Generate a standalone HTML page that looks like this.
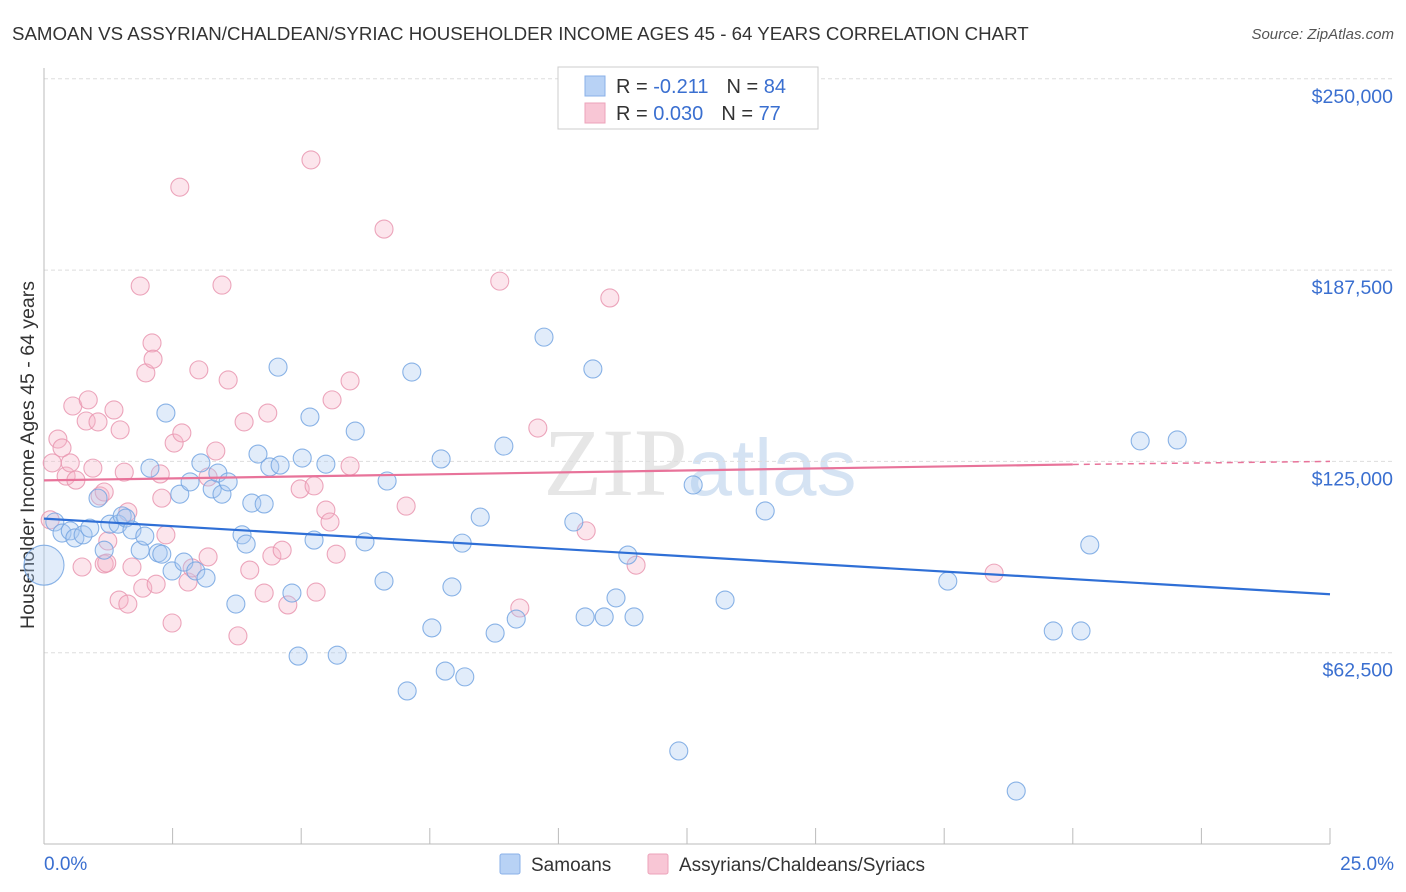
<!DOCTYPE html>
<html><head><meta charset="utf-8"><style>
body{margin:0;background:#fff;font-family:"Liberation Sans",sans-serif;}
svg{display:block}
</style></head><body>
<svg id="chart" width="1406" height="892" xmlns="http://www.w3.org/2000/svg">
<text x="12" y="40" font-size="18.7" fill="#333">SAMOAN VS ASSYRIAN/CHALDEAN/SYRIAC HOUSEHOLDER INCOME AGES 45 - 64 YEARS CORRELATION CHART</text>
<text x="1394" y="39" font-size="15" fill="#555" font-style="italic" text-anchor="end">Source: ZipAtlas.com</text>
<text x="34" y="455" font-size="19.5" fill="#333" text-anchor="middle" transform="rotate(-90 34 455)">Householder Income Ages 45 - 64 years</text>
<text x="700" y="495" font-size="96" fill="#e6e6e6" text-anchor="middle" font-family="Liberation Serif,serif">ZIP<tspan fill="#d5e3f3" font-family="Liberation Sans,sans-serif" font-size="80">atlas</tspan></text>
<g id="grid"></g><g id="axes"></g><g id="pts"></g><g id="lines"></g>
<g>
<rect x="558" y="67" width="260" height="62" fill="#fff" stroke="#ccc"/>
<rect x="585" y="76" width="20" height="20" fill="#b8d2f5" stroke="#8ab0e8"/>
<rect x="585" y="103" width="20" height="20" fill="#f8c6d5" stroke="#eca3ba"/>
<text x="616" y="93" font-size="20" fill="#333">R = <tspan fill="#3a6fd0">-0.211</tspan><tspan dx="18">N = </tspan><tspan fill="#3a6fd0">84</tspan></text>
<text x="616" y="120" font-size="20" fill="#333">R = <tspan fill="#3a6fd0">0.030</tspan><tspan dx="18">N = </tspan><tspan fill="#3a6fd0">77</tspan></text>
</g>
<g>
<rect x="500" y="854" width="20" height="20" fill="#b8d2f5" stroke="#8ab0e8" rx="2"/>
<text x="531" y="871" font-size="19" fill="#333">Samoans</text>
<rect x="648" y="854" width="20" height="20" fill="#f8c6d5" stroke="#eca3ba" rx="2"/>
<text x="679" y="871" font-size="19" fill="#333">Assyrians/Chaldeans/Syriacs</text>
</g>
<text x="44" y="870" font-size="19" fill="#3a6fd0">0.0%</text>
<text x="1394" y="870" font-size="19" fill="#3a6fd0" text-anchor="end">25.0%</text>
</svg>
<script>
const yTicks=[62500,125000,187500,250000];
const yTickLabels=["$62,500","$125,000","$187,500","$250,000"];
const samoanX=[0.21,0.35,0.51,0.60,0.76,0.89,1.05,1.17,1.28,1.44,1.52,1.59,1.71,1.87,1.96,2.06,2.22,2.29,2.37,2.49,2.64,2.72,2.84,2.95,3.05,3.15,3.27,3.38,3.46,3.58,3.73,3.85,3.93,4.04,4.16,4.28,4.39,4.55,4.59,4.82,4.94,5.02,5.17,5.25,5.48,5.70,6.05,6.24,6.61,6.67,7.06,7.15,7.54,7.72,7.80,7.93,8.13,8.18,8.48,8.77,8.94,9.18,9.72,10.30,10.52,10.67,10.89,11.12,11.35,11.47,12.34,12.62,13.24,14.02,17.57,18.90,19.62,20.16,20.33,21.31,22.03];
const samoanY=[105.2,101.6,102.3,100.0,101.0,103.2,113.0,96.0,104.5,104.5,107.2,106.5,102.6,96.0,100.6,122.8,95.1,94.7,140.8,89.2,114.3,92.1,118.3,89.2,124.5,86.9,116.0,121.2,114.3,118.3,78.4,101.0,98.0,111.4,127.4,111.1,123.2,155.8,123.8,82.0,61.4,126.1,139.5,99.3,124.1,61.7,134.9,98.7,85.9,118.6,50.0,154.2,70.6,125.8,56.5,84.0,98.3,54.6,106.8,68.9,130.0,73.5,165.6,105.2,74.2,155.2,74.2,80.4,94.4,74.2,30.4,117.3,79.7,108.8,85.9,17.3,69.6,69.6,97.7,131.7,132.0];
const assyrX=[0.12,0.16,0.27,0.35,0.43,0.51,0.56,0.62,0.74,0.82,0.86,0.95,1.05,1.09,1.17,1.17,1.22,1.24,1.36,1.46,1.48,1.56,1.63,1.71,1.63,1.87,1.92,1.98,2.10,2.12,2.18,2.26,2.29,2.37,2.49,2.53,2.64,2.68,2.80,2.88,3.01,3.19,3.19,3.34,3.46,3.58,3.77,3.89,4.00,4.28,4.35,4.43,4.63,4.74,4.98,5.19,5.25,5.29,5.48,5.56,5.60,5.68,5.95,5.95,6.61,7.04,8.86,9.25,9.60,10.54,11.00,11.51,18.47];
const assyrY=[105.9,124.5,132.3,129.4,120.2,124.5,143.1,118.9,90.5,138.2,145.1,122.8,137.9,113.7,115.0,91.5,91.8,99.0,141.8,79.7,135.3,121.5,108.5,90.5,78.4,182.3,83.6,153.9,163.7,158.4,84.9,120.9,113.0,101.0,72.2,131.0,214.6,134.3,85.6,90.2,154.9,119.9,93.8,128.4,182.6,151.6,68.0,137.9,89.5,82.0,140.8,94.1,96.0,78.1,116.0,223.5,117.0,82.3,109.1,105.2,145.1,94.7,151.3,123.5,200.9,110.4,183.9,77.1,135.9,102.3,178.4,91.1,88.5];
const bigX=[0.0], bigY=[91.1];
const trendBlue=[106.3,81.6];
const trendPink=[118.8,124.0,125.0];
const NS="http://www.w3.org/2000/svg";
const X=p=>44+p*51.44;
const Y=v=>844-v/62500*191.3;
const Yk=k=>Y(k*1000);
function mk(t,a,parent){const e=document.createElementNS(NS,t);for(const k in a)e.setAttribute(k,a[k]);parent.appendChild(e);return e;}
const grid=document.getElementById('grid'),axes=document.getElementById('axes'),pts=document.getElementById('pts'),lines=document.getElementById('lines');
yTicks.forEach((v,i)=>{
 const l=mk('line',{x1:44,x2:1394,y1:Y(v),y2:Y(v),stroke:'#ddd','stroke-dasharray':'4,3'},grid);
 
 
 const t=mk('text',{x:1393,y:Y(v)+24,'font-size':19.5,fill:'#3a6fd0','text-anchor':'end'},grid);
 t.textContent=yTickLabels[i];
 
 
});
mk('line',{x1:44,x2:44,y1:68,y2:844,stroke:'#bbb'},axes);
mk('line',{x1:44,x2:1330,y1:844,y2:844,stroke:'#bbb'},axes);
for(let i=0;i<=10;i++){const tk=mk('line',{x1:X(i*2.5),x2:X(i*2.5),y1:828,y2:844,stroke:'#bbb'},axes);
 
 }
function dots(xs,ys,fill,stroke,name,r){xs.forEach((x,i)=>{const c=mk('circle',{cx:X(x),cy:Yk(ys[i]),r:r,fill:fill,'fill-opacity':0.35,stroke:stroke,'stroke-opacity':0.85,'stroke-width':1.1},pts);
 
 });}
dots(assyrX,assyrY,'#f5b5c9','#e996b0','assyrian-point',9);
dots(samoanX,samoanY,'#a9c8f0','#76a6e2','samoan-point',9);
dots(bigX,bigY,'#a9c8f0','#76a6e2','samoan-point-large',20);
const b=mk('line',{x1:X(0),y1:Yk(trendBlue[0]),x2:X(25),y2:Yk(trendBlue[1]),stroke:'#2f6fd6','stroke-width':2.2},lines);


const p=mk('line',{x1:X(0),y1:Yk(trendPink[0]),x2:X(20),y2:Yk(trendPink[1]),stroke:'#e8739a','stroke-width':2.2},lines);


const pd=mk('line',{x1:X(20),y1:Yk(trendPink[1]),x2:X(25),y2:Yk(trendPink[2]),stroke:'#e8739a','stroke-width':1.5,'stroke-dasharray':'6,5'},lines);


</script>
</body></html>
